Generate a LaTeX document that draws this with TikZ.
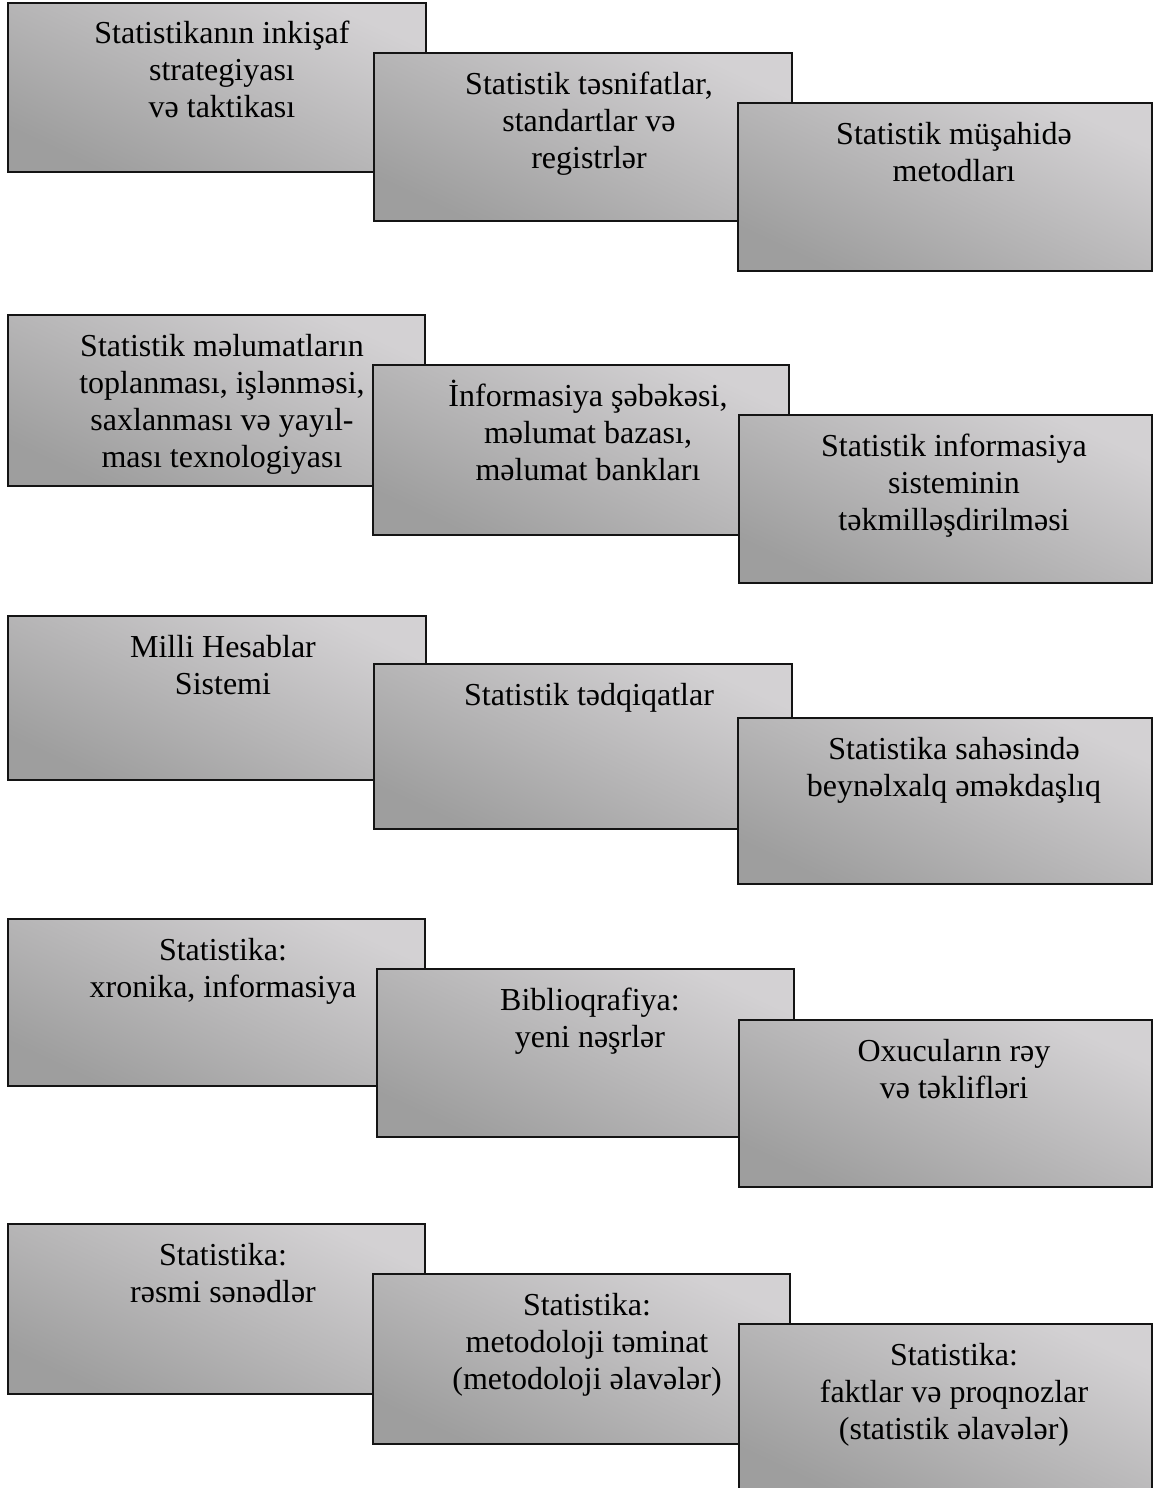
\documentclass[tikz,border=0pt]{standalone}
\usepackage{fontspec}
\setmainfont{Liberation Serif}
\definecolor{boxlight}{RGB}{211,209,211}
\definecolor{boxdark}{RGB}{158,158,158}
\definecolor{boxline}{RGB}{20,20,20}
\tikzset{
  panel/.style={draw=boxline, line width=2pt, top color=boxlight, bottom color=boxdark,
    shading angle=-25, anchor=north west, inner sep=0pt, outer sep=0pt},
  lbl/.style={anchor=base, inner sep=0pt, font=\fontsize{32}{37}\selectfont}
}
% #1 name, #2 left, #3 top, #4 right, #5 bottom, #6 text centre x, #7 text
\newcommand\mypanel[7]{%
  \node[panel, minimum width={(#4-#2)*1pt}, minimum height={(#5-#3)*1pt}] (#1) at (#2,#3) {};
  \node[lbl] (#1t) at (#6,#3+41) {\begin{tabular}[t]{@{}c@{}}#7\end{tabular}};
}
\begin{document}
\begin{tikzpicture}[x=1pt,y=-1pt]
\useasboundingbox[fill=white] (0,0) rectangle (1153,1488);
% row 1
\mypanel{a1}{8}{3}{426}{172}{222}{Statistikanın inkişaf\\strategiyası\\və taktikası}
\mypanel{a2}{374}{53}{792}{221}{589}{Statistik təsnifatlar,\\standartlar və\\registrlər}
\mypanel{a3}{738}{103}{1152}{271}{954}{Statistik müşahidə\\metodları}
% row 2
\mypanel{b1}{8}{315}{425}{486}{222}{Statistik məlumatların\\toplanması, işlənməsi,\\saxlanması və yayıl-\\ması texnologiyası}
\mypanel{b2}{373}{365}{789}{535}{588}{İnformasiya şəbəkəsi,\\məlumat bazası,\\məlumat bankları}
\mypanel{b3}{739}{415}{1152}{583}{954}{Statistik informasiya\\sisteminin\\təkmilləşdirilməsi}
% row 3
\mypanel{c1}{8}{616}{426}{780}{223}{Milli Hesablar\\Sistemi}
\mypanel{c2}{374}{664}{792}{829}{589}{Statistik tədqiqatlar}
\mypanel{c3}{738}{718}{1152}{884}{954}{Statistika sahəsində\\beynəlxalq əməkdaşlıq}
% row 4
\mypanel{d1}{8}{919}{425}{1086}{223}{Statistika:\\xronika, informasiya}
\mypanel{d2}{377}{969}{794}{1137}{590}{Biblioqrafiya:\\yeni nəşrlər}
\mypanel{d3}{739}{1020}{1152}{1187}{954}{Oxucuların rəy\\və təklifləri}
% row 5
\mypanel{e1}{8}{1224}{425}{1394}{223}{Statistika:\\rəsmi sənədlər}
\mypanel{e2}{373}{1274}{790}{1444}{587}{Statistika:\\metodoloji təminat\\(metodoloji əlavələr)}
\mypanel{e3}{739}{1324}{1152}{1492}{954}{Statistika:\\faktlar və proqnozlar\\(statistik əlavələr)}
\end{tikzpicture}
\end{document}
